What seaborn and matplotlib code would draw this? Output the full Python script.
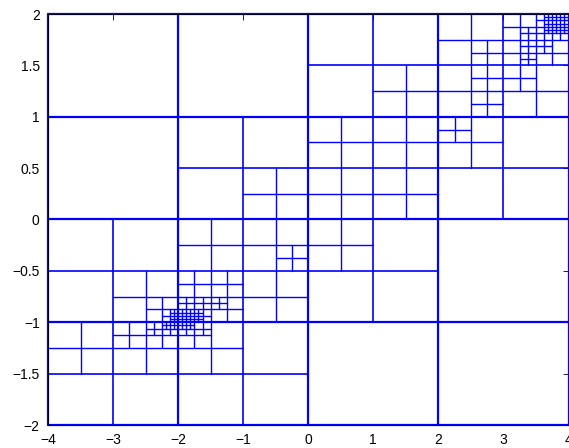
import matplotlib
matplotlib.use("Agg")
import pandas as pd
import matplotlib.pyplot as plt
import seaborn as sns

# domain split into 2 x 1 base blocks
x_edges = [-4, -2, 0, 2, 4]
y_edges = [-2, -1, 0, 1, 2]
base_w, base_h = 2.0, 1.0

# refined cells (lower-left corner) per refinement level
lev0_x = [0, 2, -2, 0, 2, -4, -2, 0, -4, -2]
lev0_y = [1, 1, 0, 0, 0, -1, -1, -1, -2, -2]

lev1_x = [1, 2, 3, 2, 3, -1, 0, 1, 0, 1, 2, -3, -2, -1, -2, -1, 0, -4, -3, -2]
lev1_y = [1, 1.5, 1.5, 1, 1, 0, 0.5, 0.5, 0, 0, 0.5, -1, -0.5, -0.5, -1, -1, -0.5, -1.5, -1.5, -1.5]

lev2_x = [2.5, 3, 3.5, 3, 3.5, 2.5, 2.5, 3, 2, -0.5, -2.5, -2, -1.5, -2, -1.5, -3, -2.5, -2]
lev2_y = [1.5, 1.75, 1.75, 1.5, 1.5, 1.25, 1, 1.25, 0.75, -0.5, -1, -0.75, -0.75, -1, -1, -1.25, -1.25, -1.25]

lev3_x = [3.5, 3.75, 3.5, 3.75, 3.25, 3.25, 3.25, 3.5,
          -2.25, -2, -1.75, -2, -1.75, -1.5, -2.5, -2.25, -2, -1.75]
lev3_y = [1.875, 1.875, 1.75, 1.75, 1.75, 1.625, 1.5, 1.625,
          -1, -0.875, -0.875, -1, -1, -0.875, -1.125, -1.125, -1.125, -1.125]

lev4_x = [3.625, 3.75, 3.875, 3.625, 3.75, 3.875, 3.625, 3.75, 3.875,
          -2.125, -2.125, -2, -2, -1.875, -1.875, -1.75, -1.75,
          -2.25, -2.125, -2, -1.875]
lev4_y = [1.9375, 1.9375, 1.9375, 1.875, 1.875, 1.875, 1.8125, 1.8125, 1.8125,
          -1, -0.9375, -1, -0.9375, -1, -0.9375, -1, -0.9375,
          -1.0625, -1.0625, -1.0625, -1.0625]

x_ticks = [-4, -3, -2, -1, 0, 1, 2, 3, 4]
x_tick_labels = ['\u22124', '\u22123', '\u22122', '\u22121', '0', '1', '2', '3', '4']
y_ticks = [-2, -1.5, -1, -0.5, 0, 0.5, 1, 1.5, 2]
y_tick_labels = ['\u22122', '\u22121.5', '\u22121', '\u22120.5', '0', '0.5', '1', '1.5', '2']

# build segments: base grid + a cross for every refined cell
rows = []
seg = 0
for x in x_edges:
    rows += [(seg, x, y_edges[0], 'grid'), (seg, x, y_edges[-1], 'grid')]
    seg += 1
for y in y_edges:
    rows += [(seg, x_edges[0], y, 'grid'), (seg, x_edges[-1], y, 'grid')]
    seg += 1

levels = [(0, lev0_x, lev0_y), (1, lev1_x, lev1_y), (2, lev2_x, lev2_y),
          (3, lev3_x, lev3_y), (4, lev4_x, lev4_y)]
for lev, xs, ys in levels:
    w = base_w / 2 ** lev
    h = base_h / 2 ** lev
    grp = 'coarse' if lev == 0 else 'fine'
    for x0, y0 in zip(xs, ys):
        rows += [(seg, x0 + w / 2, y0, grp), (seg, x0 + w / 2, y0 + h, grp)]
        seg += 1
        rows += [(seg, x0, y0 + h / 2, grp), (seg, x0 + w, y0 + h / 2, grp)]
        seg += 1

df = pd.DataFrame(rows, columns=['seg', 'x', 'y', 'group'])

sns.set_style('white')
plt.rcParams['font.family'] = ['Liberation Sans', 'DejaVu Sans']

fig = plt.figure(figsize=(5.69, 4.48), dpi=100)
ax = fig.add_axes([48 / 569, 23 / 448, 520.5 / 569, 411 / 448])

widths = {'grid': 1.6, 'coarse': 1.2, 'fine': 1.0}
for grp, lw in widths.items():
    sns.lineplot(data=df[df['group'] == grp], x='x', y='y', units='seg',
                 estimator=None, sort=False, color='#0000ff', linewidth=lw,
                 legend=False, ax=ax)
for line in ax.lines:
    line.set_clip_on(False)

ax.set_xlim(-4, 4)
ax.set_ylim(-2, 2)
ax.set_xticks(x_ticks)
ax.set_xticklabels(x_tick_labels)
ax.set_yticks(y_ticks)
ax.set_yticklabels(y_tick_labels)
ax.set_xlabel('')
ax.set_ylabel('')
ax.tick_params(direction='in', top=True, right=True, length=4, width=0.6,
               labelsize=10, colors='black', pad=6)
for sp in ax.spines.values():
    sp.set_color('black')
    sp.set_linewidth(0.6)

fig.savefig('out.png', dpi=100)
